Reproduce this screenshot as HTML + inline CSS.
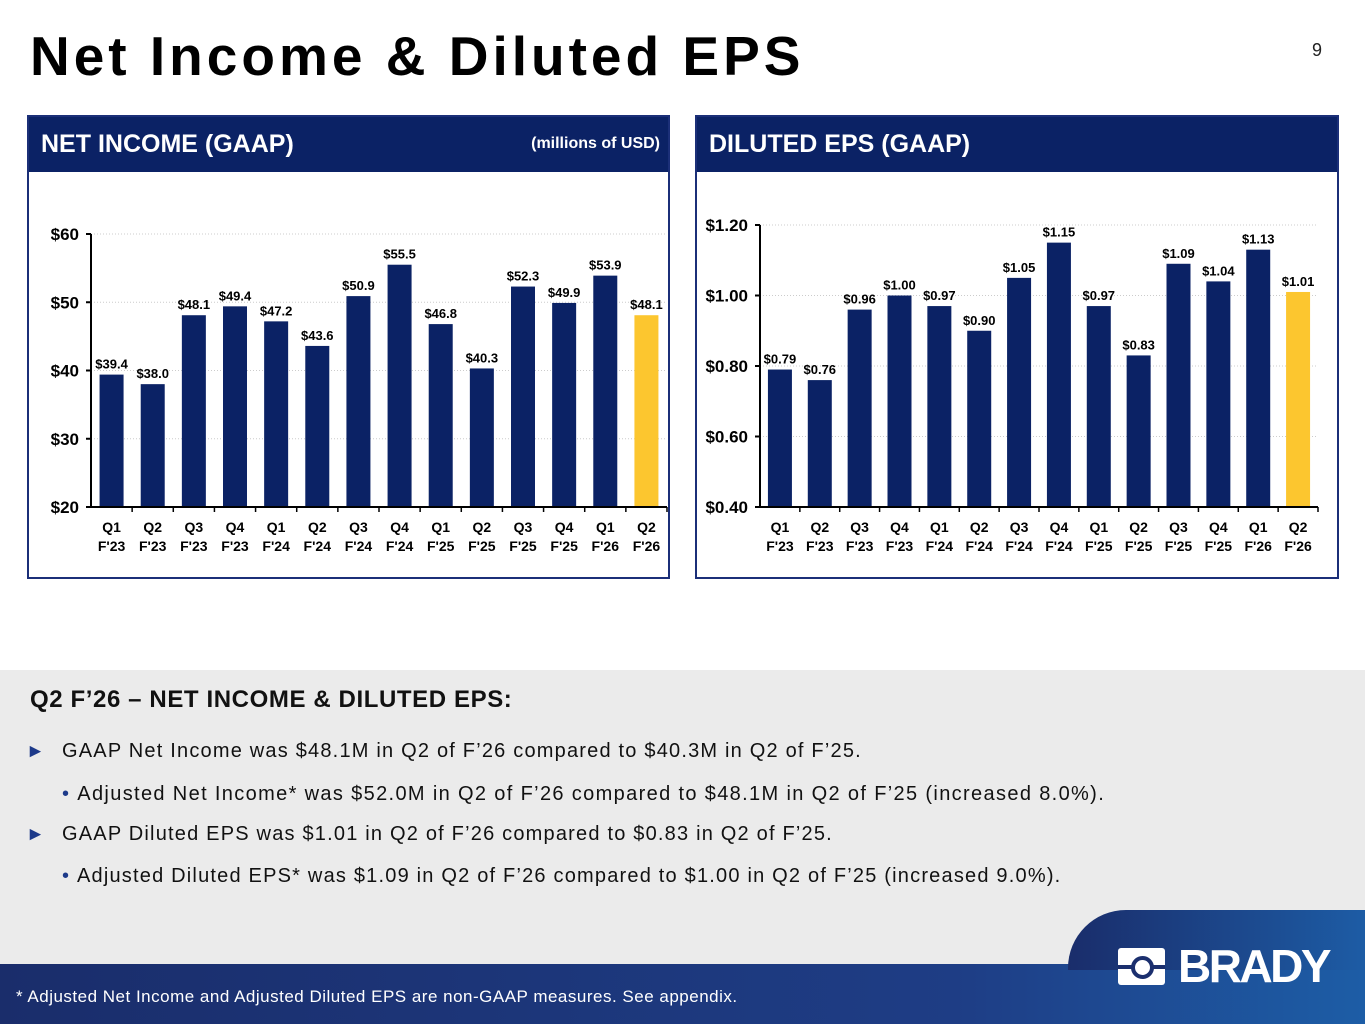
<!DOCTYPE html>
<html><head><meta charset="utf-8"><style>
body{margin:0;width:1365px;height:1024px;position:relative;overflow:hidden;background:#fff;font-family:"Liberation Sans",Arial,sans-serif}
.abs{position:absolute}
.title{left:30px;top:24px;font-size:55px;font-weight:bold;color:#000;letter-spacing:4px}
.pnum{left:1312px;top:40px;font-size:18px;color:#222}
.panel{top:115px;height:464px;border:2px solid #1b2f78;box-sizing:border-box}
.phead{left:0;top:0;right:0;height:55px;background:#0b2265;color:#fff}
.phead .t{position:absolute;left:12px;top:13px;font-size:25px;font-weight:bold}
.phead .u{position:absolute;right:8px;top:18px;font-size:16px;font-weight:bold}
.gray{left:0;top:670px;width:1365px;height:300px;background:#ebebeb}
.h2{left:30px;top:686px;font-size:24px;font-weight:bold;color:#111;letter-spacing:0.6px}
.b{font-size:20px;color:#111;letter-spacing:1.2px}
.tri{color:#1d3a8a;font-size:19px;letter-spacing:0}
.foot{left:0;top:964px;width:1365px;height:60px;background:linear-gradient(90deg,#1a2d6b,#1e3d85 70%,#1d5da6)}
.ftxt{left:16px;top:987px;font-size:17px;color:#fff;letter-spacing:0.5px}
svg text{font-family:"Liberation Sans Narrow","Liberation Sans",sans-serif;font-weight:bold}
</style></head><body>
<div class="abs title">Net Income &amp; Diluted EPS</div>
<div class="abs pnum">9</div>

<div class="abs panel" style="left:27px;width:643px">
 <div class="abs phead"><span class="t">NET INCOME (GAAP)</span><span class="u">(millions of USD)</span></div>
</div>
<div class="abs panel" style="left:695px;width:644px">
 <div class="abs phead"><span class="t">DILUTED EPS (GAAP)</span></div>
</div>
<svg class="abs" style="left:0;top:0" width="1365" height="600" id="charts"></svg>

<div class="abs gray"></div>
<div class="abs h2">Q2 F’26 – NET INCOME &amp; DILUTED EPS:</div>
<div class="abs b" style="left:26px;top:740px"><span class="tri">►</span><span style="position:absolute;left:36px;white-space:nowrap">GAAP Net Income was $48.1M in Q2 of F’26 compared to $40.3M in Q2 of F’25.</span></div>
<div class="abs b" style="left:62px;top:783px;white-space:nowrap;letter-spacing:1.35px"><span style="color:#1d3a8a">•</span>&nbsp;Adjusted Net Income* was $52.0M in Q2 of F’26 compared to $48.1M in Q2 of F’25 (increased 8.0%).</div>
<div class="abs b" style="left:26px;top:823px"><span class="tri">►</span><span style="position:absolute;left:36px;white-space:nowrap">GAAP Diluted EPS was $1.01 in Q2 of F’26 compared to $0.83 in Q2 of F’25.</span></div>
<div class="abs b" style="left:62px;top:865px;white-space:nowrap"><span style="color:#1d3a8a">•</span>&nbsp;Adjusted Diluted EPS* was $1.09 in Q2 of F’26 compared to $1.00 in Q2 of F’25 (increased 9.0%).</div>

<div class="abs foot"></div>
<div class="abs" style="left:1068px;top:910px;width:297px;height:60px;background:linear-gradient(90deg,#1a2d6b,#1d5ca5);border-top-left-radius:58px">
 <div style="position:absolute;left:50px;top:38px;width:47px;height:37px;background:#fff;border-radius:3px"><div style="position:absolute;left:0;top:17px;width:47px;height:4px;background:#1b2f6e"></div><div style="position:absolute;left:13px;top:8px;width:15px;height:15px;border:4px solid #1b2f6e;border-radius:50%;background:#fff"></div></div>
 <div style="position:absolute;left:110px;top:30px;color:#fff;font-weight:bold;font-size:46px;letter-spacing:-2.5px;line-height:52px">BRADY</div>
</div>
<div class="abs ftxt">* Adjusted Net Income and Adjusted Diluted EPS are non-GAAP measures.  See appendix.</div>

<script>
const categoriesQ=["Q1","Q2","Q3","Q4","Q1","Q2","Q3","Q4","Q1","Q2","Q3","Q4","Q1","Q2"];
const categoriesF=["F'23","F'23","F'23","F'23","F'24","F'24","F'24","F'24","F'25","F'25","F'25","F'25","F'26","F'26"];
const netIncome=[39.4,38.0,48.1,49.4,47.2,43.6,50.9,55.5,46.8,40.3,52.3,49.9,53.9,48.1];
const eps=[0.79,0.76,0.96,1.00,0.97,0.90,1.05,1.15,0.97,0.83,1.09,1.04,1.13,1.01];
const niTicks=[20,30,40,50,60];
const epsTicks=[0.40,0.60,0.80,1.00,1.20];

const svg=document.getElementById('charts');
const NS='http://www.w3.org/2000/svg';
function mk(t,a){const e=document.createElementNS(NS,t);for(const k in a)e.setAttribute(k,a[k]);svg.appendChild(e);return e;}
function chart(o){
 const y=v=>o.y0-(v-o.min)/(o.max-o.min)*(o.y0-o.y1);
 const step=(o.x1-o.x0)/o.vals.length;
 o.ticks.forEach(t=>{
  if(t!==o.min){const g=mk('line',{x1:o.x0,x2:o.x1,y1:y(t),y2:y(t),stroke:'#ccc','stroke-dasharray':'1,2'});}
  const tl=mk('text',{x:o.x0-12,y:y(t)+6,'text-anchor':'end','font-size':17,fill:'#000'});tl.textContent=o.fmtT(t);
  
  
  mk('line',{x1:o.x0-5,x2:o.x0,y1:y(t),y2:y(t),stroke:'#000','stroke-width':2});
 });
 o.vals.forEach((v,i)=>{
  const cx=o.x0+step*(i+0.5);
  const r=mk('rect',{x:cx-o.bw/2,y:y(v),width:o.bw,height:o.y0-y(v),fill:i===o.vals.length-1?'#fcc62f':'#0b2265'});
  
  
  const l=mk('text',{x:cx,y:y(v)-6,'text-anchor':'middle','font-size':13,fill:'#000'});l.textContent=o.fmtV(v);
  
  
  const a=mk('text',{x:cx,y:o.y0+25,'text-anchor':'middle','font-size':14,fill:'#000'});a.textContent=categoriesQ[i];
  
  
  const b=mk('text',{x:cx,y:o.y0+44,'text-anchor':'middle','font-size':14,fill:'#000'});b.textContent=categoriesF[i];
  
  
  mk('line',{x1:o.x0+step*(i+1),x2:o.x0+step*(i+1),y1:o.y0,y2:o.y0+5,stroke:'#000','stroke-width':1.5});
 });
 mk('line',{x1:o.x0,x2:o.x0,y1:o.y1,y2:o.y0,stroke:'#000','stroke-width':2});
 mk('line',{x1:o.x0-5,x2:o.x1,y1:o.y0,y2:o.y0,stroke:'#000','stroke-width':2});
}
chart({vals:netIncome,ticks:niTicks,min:20,max:60,x0:91,x1:667,y0:507,y1:234,bw:24,fmtT:t=>'$'+t,fmtV:v=>'$'+v.toFixed(1)});
chart({vals:eps,ticks:epsTicks,min:0.4,max:1.2,x0:760,x1:1318,y0:507,y1:225,bw:24,fmtT:t=>'$'+t.toFixed(2),fmtV:v=>'$'+v.toFixed(2)});
</script>
</body></html>
